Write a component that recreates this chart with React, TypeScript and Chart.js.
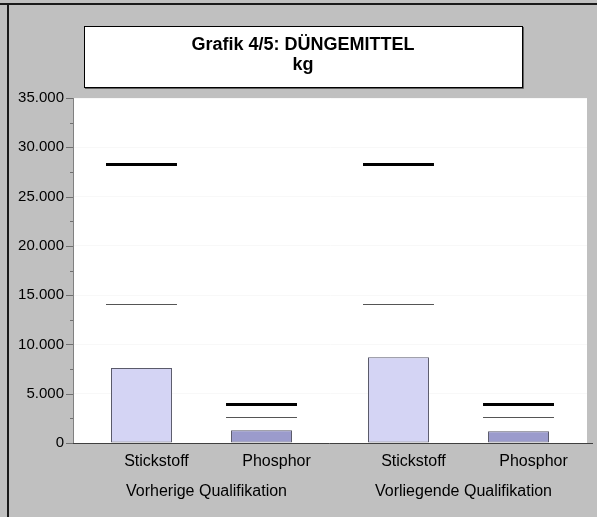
import React, { useEffect, useRef } from "react";
import { Chart, registerables } from "chart.js";

Chart.register(...registerables);

const groups = ["Vorherige Qualifikation", "Vorliegende Qualifikation"];
const series = ["Stickstoff", "Phosphor"];
const stickstoff = [7600, 8700];
const phosphor = [1300, 1200];
const stickstoffUpper = [28300, 28300];
const stickstoffLower = [14150, 14150];
const phosphorUpper = [4000, 4000];
const phosphorLower = [2600, 2600];
const yMax = 35000;
const yMajorStep = 5000;
const yMinorStep = 2500;
const titleLines = ["Grafik 4/5: DÜNGEMITTEL", "kg"];

const FONT = "'Liberation Sans', Arial, Helvetica, sans-serif";

function fmt(v: number): string {
  return String(Math.round(v)).replace(/\B(?=(\d{3})+(?!\d))/g, ".");
}

const decorPlugin = {
  id: "decor",
  beforeDraw(chart: any) {
    const { ctx, width, height, chartArea } = chart;
    ctx.save();
    ctx.fillStyle = "#c0c0c0";
    ctx.fillRect(0, 0, width, height);
    // frame lines
    ctx.fillStyle = "#1a1a1a";
    ctx.fillRect(0, 3, width, 2);
    ctx.fillRect(7, 3, 2, height);
    // plot background
    ctx.fillStyle = "#ffffff";
    ctx.fillRect(chartArea.left, chartArea.top, chartArea.right - chartArea.left, chartArea.bottom - chartArea.top);
    // title box
    const bx = 84, by = 26, bw = 438, bh = 61;
    ctx.fillStyle = "#ffffff";
    ctx.fillRect(bx, by, bw, bh);
    ctx.strokeStyle = "#000000";
    ctx.lineWidth = 1;
    ctx.strokeRect(bx + 0.5, by + 0.5, bw, bh);
    ctx.strokeStyle = "#606060";
    ctx.beginPath();
    ctx.moveTo(bx + bw + 1.5, by + 1);
    ctx.lineTo(bx + bw + 1.5, by + bh + 1.5);
    ctx.lineTo(bx + 1, by + bh + 1.5);
    ctx.stroke();
    ctx.fillStyle = "#000000";
    ctx.font = "bold 18px " + FONT;
    ctx.textAlign = "center";
    ctx.textBaseline = "alphabetic";
    ctx.fillText(titleLines[0], bx + bw / 2, 50);
    ctx.fillText(titleLines[1], bx + bw / 2, 70);
    ctx.restore();
  },
  afterDatasetsDraw(chart: any) {
    const { ctx, chartArea, scales } = chart;
    const y = scales.y;
    const x = scales.x;
    const upper = [stickstoffUpper, phosphorUpper];
    const lower = [stickstoffLower, phosphorLower];
    ctx.save();
    for (let i = 0; i < series.length; i++) {
      const meta = chart.getDatasetMeta(i);
      meta.data.forEach((bar: any, j: number) => {
        const half = bar.width / 2 + 5;
        const yu = Math.round(y.getPixelForValue(upper[i][j]));
        const yl = Math.round(y.getPixelForValue(lower[i][j]));
        ctx.strokeStyle = "#000000";
        ctx.lineWidth = 3;
        ctx.beginPath();
        ctx.moveTo(bar.x - half, yu + 0.5);
        ctx.lineTo(bar.x + half, yu + 0.5);
        ctx.stroke();
        ctx.strokeStyle = "#555555";
        ctx.lineWidth = 1;
        ctx.beginPath();
        ctx.moveTo(bar.x - half, yl + 0.5);
        ctx.lineTo(bar.x + half, yl + 0.5);
        ctx.stroke();
        // sub label
        ctx.fillStyle = "#000000";
        ctx.font = "16px " + FONT;
        ctx.textAlign = "center";
        ctx.textBaseline = "middle";
        ctx.fillText(series[i], bar.x + 15, 462);
      });
    }
    // group labels
    ctx.font = "16px " + FONT;
    ctx.fillStyle = "#000000";
    ctx.textAlign = "center";
    ctx.textBaseline = "middle";
    groups.forEach((g, j) => {
      ctx.fillText(g, x.getPixelForValue(j) + 5, 492);
    });
    // x axis line
    const yb = Math.round(y.getPixelForValue(0)) + 0.5;
    ctx.strokeStyle = "#404040";
    ctx.lineWidth = 1;
    ctx.beginPath();
    ctx.moveTo(chartArea.left - 7, yb);
    ctx.lineTo(chartArea.right + 6, yb);
    ctx.stroke();
    // y ticks (major + minor)
    ctx.strokeStyle = "#707070";
    for (let v = 0; v <= yMax; v += yMinorStep) {
      const py = Math.round(y.getPixelForValue(v)) + 0.5;
      const len = v % yMajorStep === 0 ? 7 : 3;
      ctx.beginPath();
      ctx.moveTo(chartArea.left - len, py);
      ctx.lineTo(chartArea.left, py);
      ctx.stroke();
    }
    ctx.restore();
  },
};

export default function App() {
  const ref = useRef<HTMLCanvasElement | null>(null);
  useEffect(() => {
    if (!ref.current) return;
    const chart = new Chart(ref.current, {
      type: "bar",
      data: {
        labels: groups,
        datasets: [
          {
            label: series[0],
            data: stickstoff,
            backgroundColor: "#d4d4f4",
            borderColor: "#5a5a6a",
            borderWidth: 1,
            borderSkipped: false,
          },
          {
            label: series[1],
            data: phosphor,
            backgroundColor: "#9b9bcc",
            borderColor: "#5a5a6a",
            borderWidth: 1,
            borderSkipped: false,
          },
        ],
      },
      options: {
        animation: false,
        responsive: false,
        maintainAspectRatio: false,
        devicePixelRatio: 1,
        layout: { padding: { top: 98, right: 10, left: 0, bottom: 0 } },
        datasets: {
          bar: { categoryPercentage: 0.934, barPercentage: 0.508 },
        },
        plugins: {
          legend: { display: false },
          tooltip: { enabled: false },
          title: { display: false },
        },
        scales: {
          x: {
            type: "category",
            ticks: { display: false },
            grid: { display: false },
            border: { display: false },
            afterFit: (s: any) => {
              s.height = 74;
            },
          },
          y: {
            min: 0,
            max: yMax,
            ticks: {
              stepSize: yMinorStep,
              padding: 9,
              color: "#000000",
              font: { family: FONT, size: 15 },
              callback: (v: any) => (Number(v) % yMajorStep === 0 ? fmt(Number(v)) : ""),
            },
            grid: {
              drawTicks: false,
              color: (c: any) =>
                c.tick && c.tick.value % yMajorStep === 0 && c.tick.value > 0 ? "#f8f8f8" : "rgba(0,0,0,0)",
            },
            border: { display: true, color: "#808080", width: 1 },
            afterFit: (s: any) => {
              s.width = 73;
            },
          },
        },
      },
      plugins: [decorPlugin],
    });
    return () => chart.destroy();
  }, []);
  return (
    <div style={{ position: "fixed", left: 0, top: 0, width: 597, height: 517 }}>
      <canvas ref={ref} width={597} height={517} style={{ width: 597, height: 517, display: "block" }} />
    </div>
  );
}
